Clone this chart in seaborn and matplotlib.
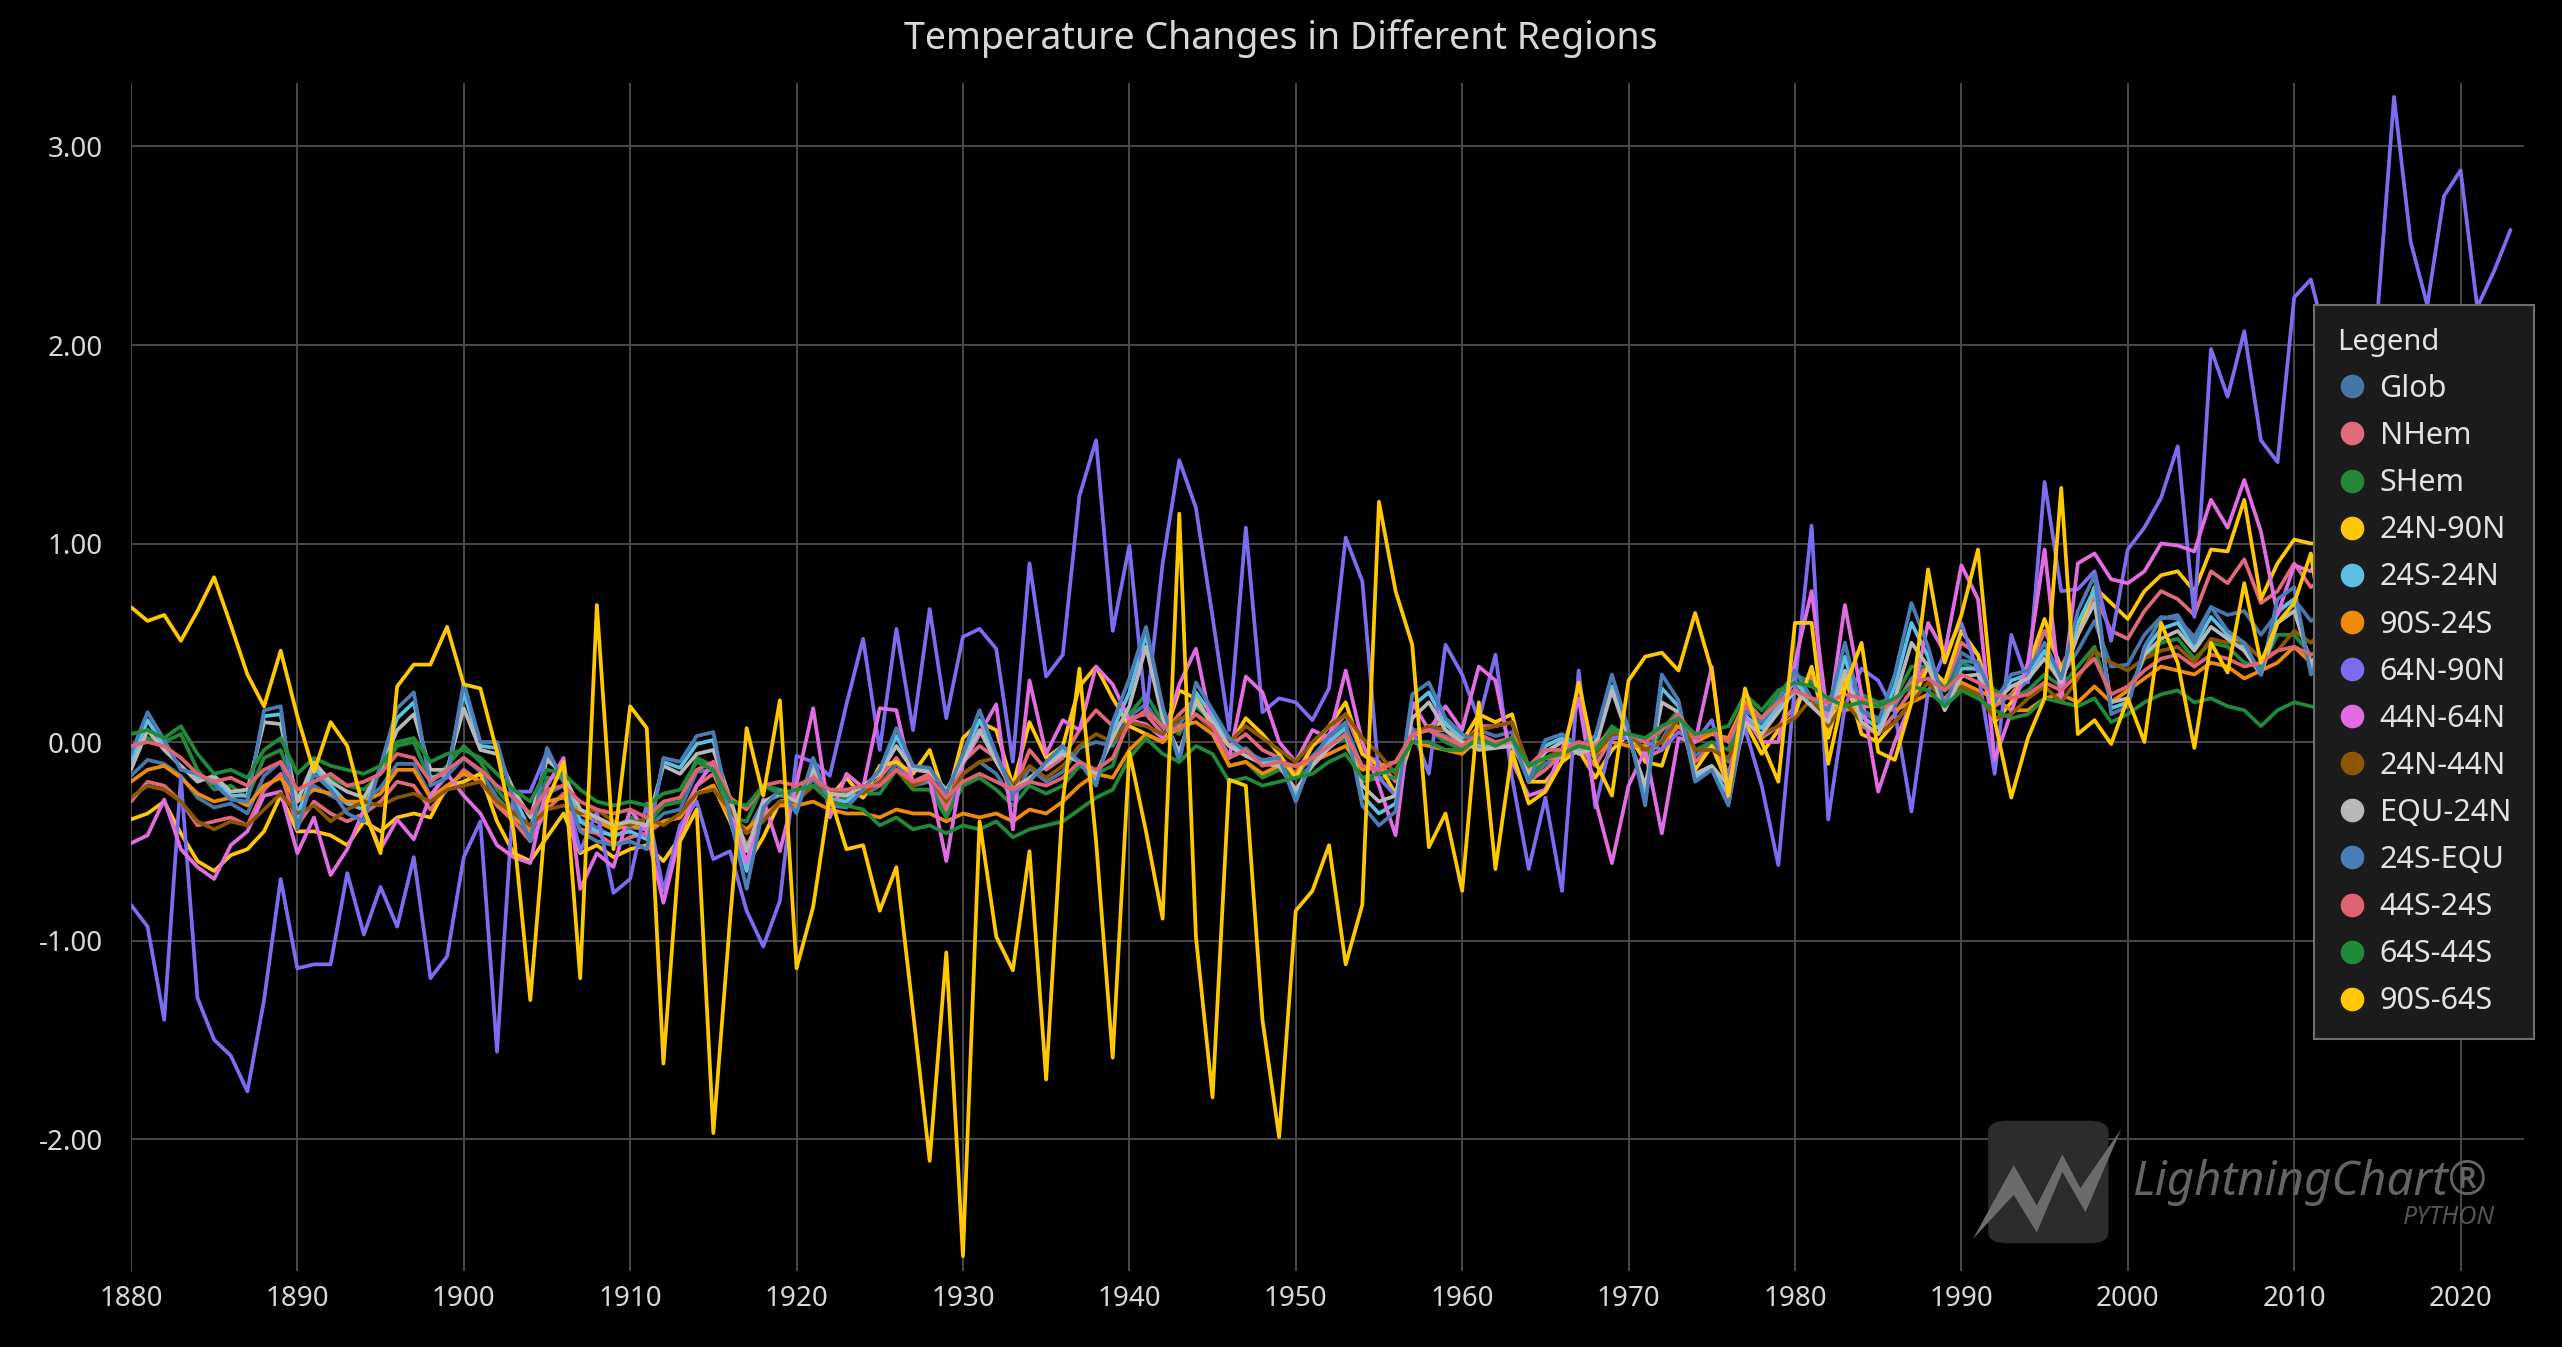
import numpy as np
import pandas as pd
import matplotlib
matplotlib.use("Agg")
import matplotlib.pyplot as plt
from matplotlib.lines import Line2D
from matplotlib.patches import FancyBboxPatch, Polygon
import seaborn as sns

# ------------------------------------------------------------
# data: zonal annual temperature anomalies, hundredths of a degree
# one line per decade, 1880 .. 2023
# ------------------------------------------------------------
years = list(range(1880, 2024))

regions = ["Glob", "NHem", "SHem", "24N-90N", "24S-24N", "90S-24S", "64N-90N",
           "44N-64N", "24N-44N", "EQU-24N", "24S-EQU", "44S-24S", "64S-44S", "90S-64S"]

glob = [
    -17, -9, -11, -17, -28, -33, -31, -36, -17, -10,
    -35, -22, -27, -31, -30, -23, -11, -11, -27, -17,
    -8, -15, -28, -37, -47, -26, -22, -39, -43, -48,
    -43, -44, -36, -34, -15, -14, -36, -46, -30, -27,
    -27, -19, -28, -26, -27, -22, -11, -22, -20, -36,
    -16, -10, -16, -29, -13, -20, -15, -3, 0, -2,
    13, 19, 7, 9, 20, 9, -7, -3, -11, -11,
    -17, -7, 1, 8, -13, -14, -19, 5, 6, 3,
    -3, 6, 3, 5, -20, -11, -6, -2, -8, 5,
    3, -8, 1, 16, -7, -1, -10, 18, 7, 16,
    26, 32, 14, 31, 16, 12, 18, 32, 39, 27,
    45, 40, 22, 23, 31, 45, 33, 46, 61, 38,
    39, 54, 63, 62, 53, 68, 64, 66, 54, 65,
    72, 61, 65, 68, 75, 90, 101, 92, 85, 98,
    102, 85, 89, 117]

nhem = [
    -30, -20, -22, -30, -42, -40, -38, -42, -24, -16,
    -42, -30, -36, -40, -36, -30, -20, -22, -34, -24,
    -14, -20, -32, -40, -50, -34, -26, -44, -46, -52,
    -48, -46, -40, -38, -22, -16, -34, -52, -38, -30,
    -28, -16, -28, -24, -28, -18, -8, -20, -16, -34,
    -10, -2, -8, -26, -4, -14, -8, 6, 16, 8,
    12, 14, 4, 14, 22, 8, -2, 4, -4, -8,
    -16, -2, 4, 14, -6, -10, -20, 4, 6, 6,
    -2, 8, 8, 10, -20, -14, -6, -2, -12, 2,
    4, -8, -4, 16, -10, -2, -16, 14, 2, 8,
    18, 34, 6, 32, 8, 4, 14, 26, 40, 28,
    50, 44, 18, 24, 36, 56, 38, 54, 74, 56,
    52, 66, 76, 72, 64, 86, 80, 92, 70, 76,
    90, 78, 84, 82, 92, 114, 124, 112, 102, 120,
    132, 110, 108, 150]

shem = [
    -4, 2, 0, 4, -14, -24, -22, -28, -8, -4,
    -28, -14, -18, -22, -24, -16, -2, 0, -20, -12,
    -2, -10, -24, -34, -44, -18, -18, -34, -40, -44,
    -38, -42, -32, -30, -8, -12, -38, -40, -22, -24,
    -26, -22, -28, -28, -26, -26, -14, -24, -24, -38,
    -22, -18, -24, -32, -22, -26, -22, -12, -16, -12,
    14, 24, 10, 4, 18, 10, -12, -10, -18, -14,
    -18, -12, -2, 2, -20, -18, -18, 6, 6, 0,
    -4, 4, -2, 0, -20, -8, -6, -2, -4, 8,
    2, -8, 6, 16, -4, 0, -4, 22, 12, 24,
    34, 30, 22, 30, 24, 20, 22, 38, 38, 26,
    40, 36, 26, 22, 26, 34, 28, 38, 48, 20,
    26, 42, 50, 52, 42, 50, 48, 40, 38, 54,
    54, 44, 46, 54, 58, 66, 78, 72, 68, 76,
    72, 60, 70, 84]

n24_90 = [
    -39, -36, -30, -46, -60, -65, -57, -54, -45, -27,
    -45, -45, -47, -52, -40, -45, -38, -36, -38, -22,
    -20, -16, -40, -56, -60, -48, -36, -56, -52, -58,
    -54, -52, -60, -48, -26, -22, -40, -62, -48, -30,
    -30, -12, -28, -18, -28, -12, -10, -16, -4, -30,
    2, 10, 6, -22, 10, -8, -2, 28, 38, 22,
    8, 4, 0, 26, 22, 8, -2, 12, 4, -6,
    -18, -2, 8, 20, -6, -12, -26, 2, 8, 10,
    0, 14, 10, 14, -20, -20, -10, -4, -18, -4,
    4, -10, -12, 14, -14, -2, -22, 10, -6, 6,
    14, 38, 2, 34, 4, 0, 10, 20, 38, 30,
    56, 44, 10, 20, 38, 62, 36, 54, 78, 70,
    62, 76, 84, 86, 76, 97, 96, 122, 72, 90,
    102, 100, 100, 94, 104, 128, 146, 134, 118, 146,
    166, 136, 128, 178]

s24_n24 = [
    -10, 11, -2, -13, -18, -19, -27, -27, 13, 14,
    -38, -13, -22, -31, -34, -13, 12, 20, -18, -16,
    25, -2, -3, -27, -45, -6, -18, -40, -45, -47,
    -45, -49, -10, -13, -1, 1, -33, -65, -31, -25,
    -33, -11, -29, -30, -23, -15, 3, -13, -14, -25,
    -8, 11, -8, -25, -19, -11, -4, -10, -19, 6,
    25, 54, 15, -8, 25, 13, 0, -6, -10, -10,
    -27, -10, 0, 7, -27, -36, -31, 18, 25, 9,
    2, -2, -2, 0, -18, -2, 2, -4, 0, 28,
    4, -27, 27, 18, -18, -13, -27, 13, 7, 18,
    31, 20, 13, 43, 13, 7, 28, 60, 43, 17,
    37, 37, 20, 31, 34, 46, 31, 60, 77, 17,
    20, 46, 57, 60, 48, 63, 54, 48, 34, 66,
    72, 37, 50, 55, 66, 95, 105, 80, 72, 92,
    88, 62, 66, 115]

s90_s24 = [
    -20, -14, -12, -18, -26, -30, -28, -32, -22, -18,
    -30, -24, -26, -30, -30, -26, -14, -14, -28, -22,
    -16, -20, -30, -38, -44, -30, -28, -36, -40, -44,
    -42, -44, -40, -38, -26, -22, -38, -44, -36, -32,
    -32, -30, -34, -36, -36, -38, -34, -36, -36, -40,
    -36, -38, -36, -40, -34, -36, -30, -22, -16, -18,
    -4, 4, 0, 8, 10, 4, -12, -10, -16, -12,
    -12, -10, -6, -2, -14, -12, -10, 0, -2, -4,
    -6, 2, -2, 0, -14, -8, -8, -2, -6, 0,
    -2, -2, 0, 8, 0, 4, 2, 20, 12, 20,
    26, 22, 18, 16, 18, 18, 16, 20, 24, 22,
    30, 26, 22, 16, 16, 22, 24, 20, 28, 20,
    26, 32, 38, 36, 34, 40, 38, 32, 36, 40,
    48, 40, 42, 46, 50, 54, 60, 58, 56, 60,
    58, 52, 60, 68]

n64_90 = [
    -82, -93, -140, -18, -129, -150, -158, -176, -130, -69,
    -114, -112, -112, -66, -97, -73, -93, -58, -119, -108,
    -58, -40, -156, -25, -25, -5, -20, -55, -35, -76,
    -69, -31, -75, -42, -30, -59, -55, -85, -103, -80,
    -7, -10, -17, 19, 52, -4, 57, 6, 67, 12,
    53, 57, 47, -10, 90, 33, 44, 124, 152, 56,
    99, 14, 90, 142, 118, 63, 6, 108, 15, 22,
    20, 11, 27, 103, 81, -18, -27, 7, -16, 49,
    34, 11, 44, -18, -64, -28, -75, 36, -33, 2,
    2, 0, -4, 5, 0, 11, -18, 7, -22, -62,
    29, 109, -39, 18, 37, 31, 15, -35, 25, 45,
    60, 35, -16, 54, 30, 131, 76, 77, 86, 51,
    97, 108, 123, 149, 63, 198, 174, 207, 152, 141,
    224, 233, 200, 160, 180, 215, 325, 252, 220, 275,
    288, 219, 237, 258]

n44_64 = [
    -51, -47, -29, -54, -63, -69, -52, -45, -27, -25,
    -56, -38, -67, -54, -34, -54, -39, -49, -27, -16,
    -27, -36, -52, -58, -61, -22, -8, -74, -56, -63,
    -34, -45, -81, -47, -22, -10, -33, -61, -29, -55,
    -21, 17, -38, -16, -23, 17, 16, -21, -19, -60,
    -11, 4, 19, -44, 31, -6, 11, 6, 38, 29,
    11, 9, 2, 29, 47, 6, -8, 33, 25, 0,
    -10, 6, 2, 36, 0, -22, -47, 20, 6, 18,
    6, 38, 31, -10, -27, -24, -4, 22, -29, -61,
    -22, -4, -46, 2, 0, 38, -31, 13, 0, 0,
    40, 76, 10, 69, 24, -25, 0, 20, 60, 45,
    89, 72, -9, 15, 40, 97, 20, 90, 95, 82,
    80, 86, 100, 99, 96, 122, 108, 132, 106, 64,
    89, 86, 105, 98, 110, 135, 150, 128, 118, 140,
    170, 130, 135, 182]

n24_44 = [
    -28, -22, -24, -30, -40, -44, -40, -42, -34, -26,
    -36, -32, -40, -34, -30, -32, -28, -26, -30, -24,
    -22, -20, -30, -36, -42, -34, -32, -36, -34, -40,
    -42, -38, -42, -36, -26, -24, -34, -46, -40, -30,
    -30, -22, -26, -24, -26, -20, -14, -22, -18, -30,
    -16, -10, -8, -22, -12, -18, -12, -2, 4, 0,
    10, 8, 4, 12, 14, 6, 0, 8, 2, -4,
    -10, 0, 8, 14, 2, -6, -16, 4, 8, 6,
    0, 6, 8, 10, -12, -8, -4, 0, -6, 4,
    4, -4, 0, 12, -4, -4, -8, 10, 4, 8,
    12, 22, 8, 20, 10, 4, 10, 20, 30, 20,
    28, 24, 12, 14, 22, 28, 20, 32, 46, 40,
    36, 42, 46, 48, 40, 52, 50, 50, 42, 46,
    56, 50, 58, 58, 62, 74, 86, 80, 74, 82,
    92, 84, 88, 110]

equ_n24 = [
    -14, 6, -4, -12, -20, -17, -25, -24, 10, 9,
    -30, -10, -20, -25, -28, -14, 6, 14, -14, -14,
    17, -4, -6, -24, -38, -9, -16, -34, -38, -42,
    -40, -42, -12, -16, -6, -4, -28, -55, -30, -26,
    -30, -14, -26, -27, -22, -16, -2, -14, -15, -24,
    -10, 6, -10, -24, -18, -12, -6, -10, -16, 2,
    18, 48, 12, -5, 20, 10, -2, -7, -11, -12,
    -24, -12, -3, 4, -22, -30, -27, 12, 20, 6,
    0, -4, -3, -2, -16, -5, 0, -6, -3, 26,
    2, -22, 20, 15, -16, -12, -22, 10, 4, 15,
    26, 18, 10, 36, 10, 4, 22, 50, 38, 16,
    33, 34, 20, 28, 32, 42, 30, 54, 70, 20,
    22, 44, 52, 56, 46, 58, 52, 46, 34, 60,
    66, 40, 50, 54, 64, 90, 98, 78, 72, 90,
    86, 64, 68, 110]

s24_equ = [
    -6, 15, 1, -14, -16, -21, -29, -30, 16, 18,
    -44, -16, -24, -36, -40, -12, 17, 25, -22, -18,
    30, 0, 0, -30, -50, -3, -20, -45, -50, -52,
    -50, -54, -8, -10, 3, 5, -38, -74, -33, -24,
    -36, -8, -32, -33, -24, -14, 7, -12, -13, -26,
    -6, 16, -6, -26, -20, -10, -2, -10, -22, 10,
    32, 58, 18, -10, 30, 16, 2, -5, -9, -8,
    -30, -8, 3, 10, -32, -42, -35, 24, 30, 12,
    4, 0, -1, 2, -20, 1, 4, -2, 3, 34,
    6, -32, 34, 21, -20, -14, -32, 16, 10, 21,
    36, 22, 16, 50, 16, 10, 34, 70, 48, 18,
    41, 40, 20, 34, 36, 50, 32, 66, 84, 14,
    18, 48, 62, 64, 50, 68, 56, 50, 34, 72,
    78, 34, 50, 56, 68, 100, 112, 82, 72, 94,
    90, 60, 64, 120]

s44_s24 = [
    -2, 0, -2, -8, -16, -20, -18, -22, -14, -10,
    -24, -20, -16, -22, -20, -16, -6, -8, -20, -14,
    -8, -14, -22, -28, -36, -24, -22, -30, -34, -36,
    -34, -38, -30, -28, -14, -10, -28, -34, -22, -20,
    -22, -18, -24, -24, -22, -22, -14, -20, -18, -28,
    -20, -16, -20, -24, -20, -22, -18, -10, -14, -8,
    10, 16, 8, 6, 14, 8, -8, -4, -12, -10,
    -12, -8, -2, 4, -12, -14, -10, 4, 6, 2,
    -2, 4, 0, 2, -12, -4, -4, 0, -2, 6,
    4, 0, 6, 14, 2, 6, 0, 18, 12, 20,
    26, 22, 20, 24, 22, 18, 20, 30, 32, 26,
    34, 30, 24, 22, 24, 30, 26, 34, 42, 24,
    28, 36, 42, 44, 38, 44, 42, 38, 40, 46,
    48, 44, 46, 50, 54, 60, 70, 66, 62, 70,
    68, 58, 64, 80]

s64_s44 = [
    4, 6, 2, 8, -6, -16, -14, -18, -4, 2,
    -16, -8, -12, -14, -16, -12, 0, 2, -10, -6,
    -4, -8, -16, -24, -30, -14, -16, -24, -30, -32,
    -30, -32, -26, -24, -10, -14, -30, -32, -22, -26,
    -24, -22, -30, -32, -34, -42, -38, -44, -42, -46,
    -42, -44, -40, -48, -44, -42, -40, -34, -28, -24,
    -8, 2, -6, -10, -2, -6, -20, -18, -22, -20,
    -18, -16, -10, -6, -18, -16, -14, 0, 0, -4,
    -4, 2, -2, 2, -12, -8, -6, -2, -4, 6,
    4, 2, 8, 12, 4, 6, 8, 24, 16, 26,
    30, 28, 22, 18, 20, 18, 22, 28, 26, 18,
    26, 22, 16, 12, 14, 22, 20, 18, 22, 10,
    14, 20, 24, 26, 20, 22, 18, 16, 8, 16,
    20, 18, 16, 22, 20, 22, 30, 28, 26, 30,
    28, 22, 30, 34]

s90_s64 = [
    68, 61, 64, 51, 66, 83, 59, 34, 18, 46,
    13, -15, 10, -2, -34, -56, 28, 39, 39, 58,
    29, 27, -5, -45, -130, -30, -10, -119, 69, -54,
    18, 7, -162, -50, -34, -197, -90, 7, -27, 21,
    -114, -83, -27, -54, -52, -85, -63, -136, -211, -106,
    -259, -40, -98, -115, -55, -170, -30, 37, -50, -159,
    -5, -45, -89, 115, -98, -179, -19, -22, -140, -199,
    -85, -75, -52, -112, -82, 121, 76, 49, -53, -36,
    -75, 20, -64, -5, -31, -25, -10, 30, -10, -27,
    31, 43, 45, 36, 65, 36, -27, 27, 0, -20,
    60, 60, -11, 27, 50, -5, -9, 20, 87, 40,
    64, 97, 11, -28, 2, 22, 128, 4, 11, -1,
    22, 0, 60, 40, -3, 50, 35, 80, 40, 60,
    70, 95, 40, 30, 20, 60, 50, 40, 65, 70,
    60, 75, 30, 20]

colors = ["#4677a8", "#e0697a", "#23883a", "#ffc60a", "#5cc0e4", "#f08a0a", "#7b6cf0",
          "#e26de2", "#8a5700", "#b8b8b8", "#4a7db5", "#e06373", "#1f8a38", "#ffc800"]

series = [glob, nhem, shem, n24_90, s24_n24, s90_s24, n64_90,
          n44_64, n24_44, equ_n24, s24_equ, s44_s24, s64_s44, s90_s64]

df = pd.DataFrame({"year": years})
for name, vals in zip(regions, series):
    df[name] = np.array(vals) / 100.0
long_df = df.melt(id_vars="year", var_name="region", value_name="anomaly")

# ------------------------------------------------------------
# style
# ------------------------------------------------------------
sns.set_theme(style="dark")
plt.rcParams["font.family"] = ["Noto Sans", "DejaVu Sans"]
plt.rcParams["axes.unicode_minus"] = False

fig = plt.figure(figsize=(25.62, 13.47), dpi=100, facecolor="black")
ax = fig.add_axes([0.0511, 0.0564, 0.934, 0.882])
ax.set_facecolor("black")

palette = dict(zip(regions, colors))
sns.lineplot(data=long_df, x="year", y="anomaly", hue="region", hue_order=regions,
             palette=palette, linewidth=2.7, legend=False, ax=ax)

ax.set_xlim(1880, 2023.8)
ax.set_ylim(-2.665, 3.32)
ax.set_xticks(range(1880, 2021, 10))
ax.set_yticks([-2, -1, 0, 1, 2, 3])
ax.set_yticklabels([f"{v:.2f}" for v in [-2, -1, 0, 1, 2, 3]])
ax.set_xlabel("")
ax.set_ylabel("")
ax.grid(True, color="#4a4a4a", linewidth=1.4)
ax.set_axisbelow(True)
for s in ax.spines.values():
    s.set_visible(False)
ax.tick_params(axis="both", length=0, colors="#d8d8d8", labelsize=20)
ax.tick_params(axis="y", pad=20)
ax.tick_params(axis="x", pad=10)

fig.text(0.5, 0.971, "Temperature Changes in Different Regions", ha="center", va="center",
         color="#d8d8d8", fontsize=27)

# watermark (logo box, bolt, name)
logo = FancyBboxPatch((0.776, 0.077), 0.047, 0.091,
                      boxstyle="round,pad=0,rounding_size=0.008",
                      transform=fig.transFigure, facecolor="#2c2c2c", edgecolor="none",
                      zorder=5)
fig.patches.append(logo)
bolt = Polygon([(0.770, 0.080), (0.786, 0.135), (0.795, 0.105), (0.805, 0.143),
                (0.812, 0.118), (0.828, 0.162), (0.814, 0.100), (0.805, 0.130),
                (0.795, 0.085), (0.786, 0.113)],
               closed=True, transform=fig.transFigure, facecolor="#6b6b6b",
               edgecolor="none", zorder=6)
fig.patches.append(bolt)
fig.text(0.832, 0.122, "LightningChart®", color="#646464", fontsize=34,
         fontstyle="italic", fontweight="semibold", ha="left", va="center")
fig.text(0.974, 0.096, "PYTHON", color="#555555", fontsize=18, fontstyle="italic",
         fontweight="bold", ha="right", va="center")

# legend
handles = [Line2D([], [], linestyle="none", marker="o", markersize=16,
                  markerfacecolor=c, markeredgecolor=c) for c in colors]
leg = fig.legend(handles, regions, title="Legend", loc="upper right",
                 bbox_to_anchor=(2534 / 2562, 1 - 305 / 1347), borderaxespad=0,
                 fontsize=22, title_fontsize=21, alignment="left",
                 frameon=True, fancybox=False, facecolor="#1b1b1b", edgecolor="#6e6e6e",
                 framealpha=1.0, borderpad=0.75, handlelength=1.0, handletextpad=0.4,
                 labelspacing=0.56)
leg.get_frame().set_linewidth(1.5)
for t in leg.get_texts():
    t.set_color("#e2e2e2")
leg.get_title().set_color("#e2e2e2")

fig.savefig("out.png", dpi=100, facecolor="black")
